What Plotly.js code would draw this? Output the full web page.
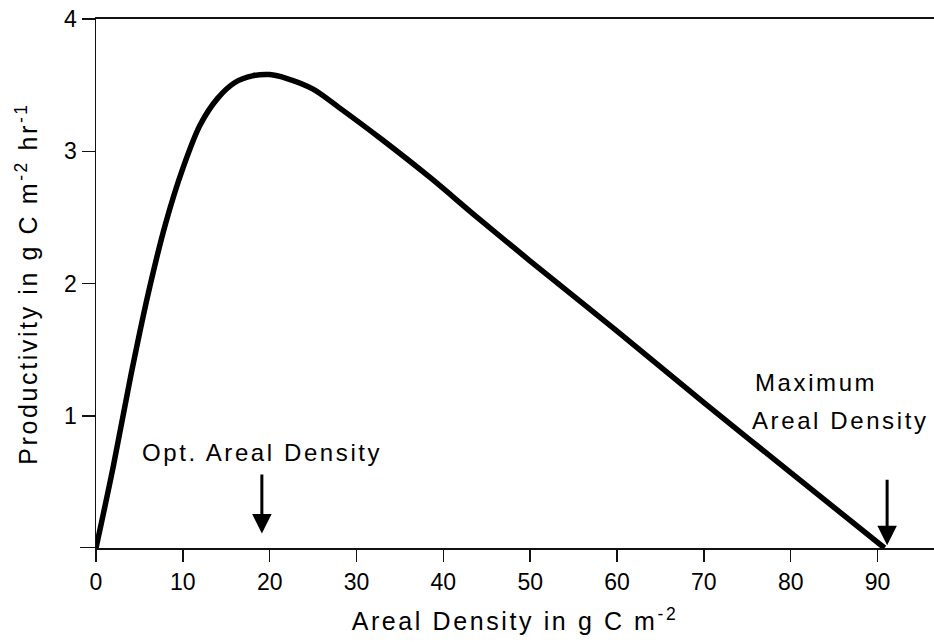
<!DOCTYPE html>
<html>
<head>
<meta charset="utf-8">
<script src="https://cdn.plot.ly/plotly-3.0.1.min.js"></script>
<style>
  html, body { margin: 0; padding: 0; background: #fff; }
  #chart { width: 934px; height: 642px; }
  .xtitle, .ytitle, .annotation-text { letter-spacing: 2.6px; }
</style>
</head>
<body>
<div id="chart"></div>
<script>
// Areal density (g C m^-2) and productivity (g C m^-2 hr^-1)
const arealDensity = [0, 2, 4, 6, 8, 10, 12, 14, 16, 18, 20, 22, 25, 28, 32.7, 38.5, 43.9, 50, 60, 70, 80, 90.8];
const productivity = [0, 0.62, 1.30, 1.92, 2.45, 2.87, 3.20, 3.40, 3.52, 3.57, 3.58, 3.55, 3.47, 3.33, 3.10, 2.80, 2.50, 2.17, 1.64, 1.10, 0.57, 0];

const xTickVals = [0, 10, 20, 30, 40, 50, 60, 70, 80, 90];
const xTickText = ["0", "10", "20", "30", "40", "50", "60", "70", "80", "90"];
const yTickVals = [1, 2, 3, 4];
const yTickText = ["1", "2", "3", "4"];

const optDensity = 19.1;   // arrow: optimum areal density
const maxDensity = 91.1;   // arrow: maximum areal density

const FONT = "Liberation Sans, Arial, Helvetica, sans-serif";

const trace = {
  x: arealDensity,
  y: productivity,
  type: "scatter",
  mode: "lines",
  line: { color: "#000", width: 5.5, shape: "spline", smoothing: 0.9 },
  cliponaxis: false,
  hoverinfo: "x+y"
};

const layout = {
  width: 934,
  height: 642,
  margin: { l: 96, r: 0, t: 19, b: 94 },
  paper_bgcolor: "#fff",
  plot_bgcolor: "#fff",
  showlegend: false,
  font: { family: FONT, color: "#000", size: 24 },
  xaxis: {
    range: [0, 96.5],
    tickmode: "array",
    tickvals: xTickVals,
    ticktext: xTickText,
    ticks: "outside",
    ticklen: 12,
    tickwidth: 1.5,
    tickcolor: "#111",
    showline: true,
    linecolor: "#111",
    linewidth: 2,
    mirror: true,
    showgrid: false,
    zeroline: false,
    tickfont: { family: FONT, size: 23, color: "#000" },
    title: { text: "Areal Density in g C m<sup>-2</sup>", font: { family: FONT, size: 25, color: "#000" }, standoff: 19 }
  },
  yaxis: {
    range: [0, 4],
    tickmode: "array",
    tickvals: yTickVals,
    ticktext: yTickText,
    ticks: "outside",
    ticklen: 13,
    tickwidth: 1.5,
    tickcolor: "#111",
    showline: true,
    linecolor: "#111",
    linewidth: 1.5,
    showgrid: false,
    zeroline: false,
    tickfont: { family: FONT, size: 23, color: "#000" },
    title: { text: "Productivity in g C m<sup>-2</sup> hr<sup>-1</sup>", font: { family: FONT, size: 25, color: "#000" }, standoff: 19 }
  },
  shapes: [
    { type: "line", xref: "paper", yref: "y", x0: -0.019, x1: 0, y0: 0, y1: 0, line: { color: "#111", width: 2 } }
  ],
  annotations: [
    { x: optDensity, y: 0.11, xref: "x", yref: "y", text: "Opt. Areal Density", showarrow: true,
      ax: 0, ay: -81, borderpad: 8, arrowhead: 2, arrowsize: 1.3, arrowwidth: 3, arrowcolor: "#000",
      font: { family: FONT, size: 24, color: "#000" } },
    { x: 75.7, y: 1.255, xref: "x", yref: "y", text: "Maximum", showarrow: false, xanchor: "left", yanchor: "middle", font: { family: FONT, size: 24, color: "#000" } },
    { x: 75.35, y: 0.967, xref: "x", yref: "y", text: "Areal Density", showarrow: false, xanchor: "left", yanchor: "middle", font: { family: FONT, size: 24, color: "#000" } },
    { x: maxDensity, y: 0.02, xref: "x", yref: "y", text: "", showarrow: true, arrowhead: 2, arrowsize: 1.3, arrowwidth: 3, arrowcolor: "#000", ax: 0, ay: -67 }
  ]
};

Plotly.newPlot("chart", [trace], layout, { displayModeBar: false, staticPlot: true });
</script>
</body>
</html>
